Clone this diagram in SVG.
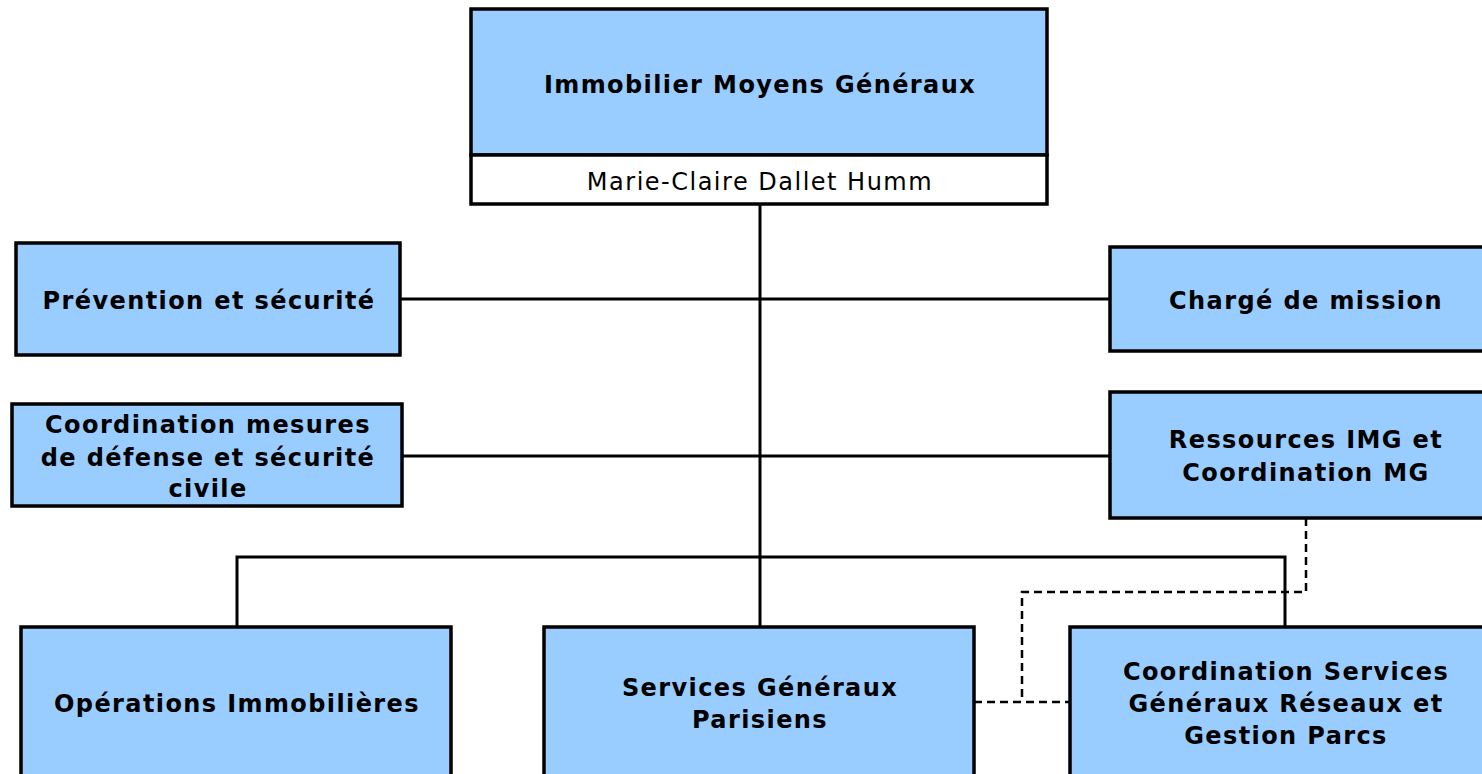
<svg xmlns="http://www.w3.org/2000/svg" width="1482" height="774" viewBox="0 0 1482 774">
<style>
.box{fill:#99ccff;stroke:#000;stroke-width:3.5}
.sub{fill:#fff;stroke:#000;stroke-width:3.5}
.t{font-family:"DejaVu Sans",Verdana,sans-serif;font-size:24px;font-weight:bold;letter-spacing:1.4px;text-anchor:middle;fill:#000}
.n{font-family:"DejaVu Sans",Verdana,sans-serif;font-size:24px;letter-spacing:1.5px;text-anchor:middle;fill:#000}
.c{fill:none;stroke:#000;stroke-width:3}
.d{fill:none;stroke:#000;stroke-width:2.5;stroke-dasharray:8 5}
</style>
<rect width="1482" height="774" fill="#fff"/>
<g id="connectors">
<line class="c" x1="760" y1="204" x2="760" y2="627"/>
<line class="c" x1="400" y1="299" x2="1110" y2="299"/>
<line class="c" x1="402" y1="456" x2="1110" y2="456"/>
<polyline class="c" points="237,627 237,557 1285,557 1285,627"/>
<polyline class="d" points="1306,518 1306,592 1022,592 1022,702"/>
<line class="d" x1="974" y1="702" x2="1070" y2="702"/>
</g>
<g id="top">
<rect class="box" x="471" y="9" width="576" height="146"/>
<rect class="sub" x="471" y="155" width="576" height="49"/>
<text class="t" x="760" y="93">Immobilier Moyens Généraux</text>
<text class="n" x="760" y="190">Marie-Claire Dallet Humm</text>
</g>
<g id="prevention">
<rect class="box" x="16" y="243" width="384" height="112"/>
<text class="t" x="209" y="309">Prévention et sécurité</text>
</g>
<g id="coordmesures">
<rect class="box" x="12" y="404" width="390" height="102"/>
<text class="t" x="208" y="433">Coordination mesures</text>
<text class="t" x="208" y="466">de défense et sécurité</text>
<text class="t" x="208" y="497">civile</text>
</g>
<g id="charge">
<rect class="box" x="1110" y="247" width="380" height="104"/>
<text class="t" x="1306" y="309">Chargé de mission</text>
</g>
<g id="ressources">
<rect class="box" x="1110" y="392" width="380" height="126"/>
<text class="t" x="1306" y="448">Ressources IMG et</text>
<text class="t" x="1306" y="481">Coordination MG</text>
</g>
<g id="operations">
<rect class="box" x="21" y="627" width="430" height="160"/>
<text class="t" x="237" y="712">Opérations Immobilières</text>
</g>
<g id="sgp">
<rect class="box" x="544" y="627" width="430" height="160"/>
<text class="t" x="760" y="696">Services Généraux</text>
<text class="t" x="760" y="728">Parisiens</text>
</g>
<g id="csgr">
<rect class="box" x="1070" y="627" width="430" height="160"/>
<text class="t" x="1286" y="680">Coordination Services</text>
<text class="t" x="1286" y="712">Généraux Réseaux et</text>
<text class="t" x="1286" y="744">Gestion Parcs</text>
</g>
</svg>
